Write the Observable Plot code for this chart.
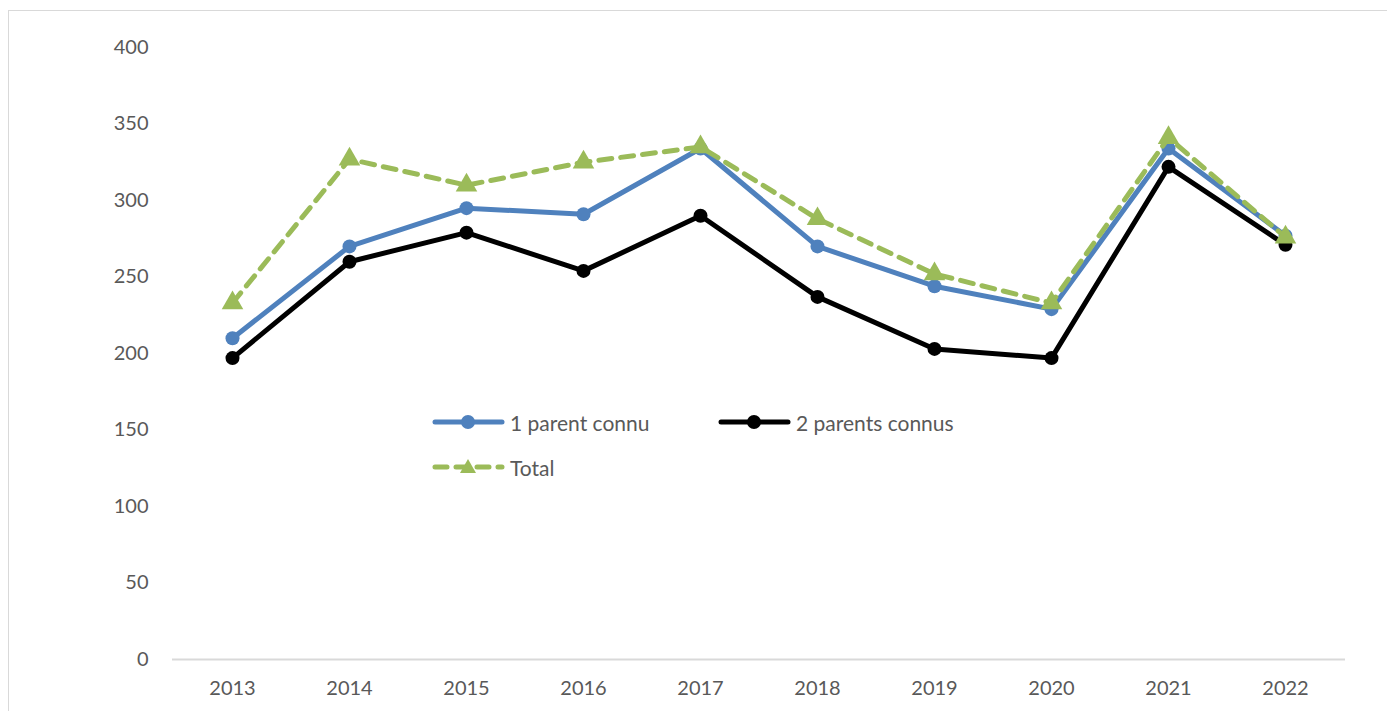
<!DOCTYPE html>
<html>
<head>
<meta charset="utf-8">
<script src="https://cdn.jsdelivr.net/npm/d3@7"></script>
<script src="https://cdn.jsdelivr.net/npm/@observablehq/plot@0.6"></script>
<style>
  html, body { margin: 0; padding: 0; background: #fff; }
  #wrap { position: relative; width: 1387px; height: 711px; overflow: hidden; font-family: Lato, "Open Sans", sans-serif; }
  #frame { position: absolute; left: 8px; top: 10px; width: 1400px; height: 720px; border: 1.5px solid #d9d9d9; box-sizing: border-box; }
  #chart { position: absolute; left: 0; top: 0; }
  .leg { position: absolute; display: flex; align-items: center; font-size: 21px; color: #595959; }
  .leg svg { margin-right: 5px; }
</style>
</head>
<body>
<div id="wrap">
  <div id="frame"></div>
  <div id="chart"></div>
</div>
<script>
const years = ["2013","2014","2015","2016","2017","2018","2019","2020","2021","2022"];
const unParent = [210, 270, 295, 291, 334, 270, 244, 229, 334, 277];
const deuxParents = [197, 260, 279, 254, 290, 237, 203, 197, 322, 271];
const total = [233, 327, 310, 325, 335, 288, 252, 233, 341, 276];
const yTicks = [0, 50, 100, 150, 200, 250, 300, 350, 400];
const seriesNames = ["1 parent connu", "2 parents connus", "Total"];

const blue = "#4f81bd", black = "#000000", green = "#9bbb59";

const rows = s => years.map((y, i) => ({year: y, value: s[i]}));
const dBlue = rows(unParent), dBlack = rows(deuxParents), dTotal = rows(total);

const plot = Plot.plot({
  width: 1387,
  height: 711,
  marginLeft: 172,
  marginRight: 42,
  marginTop: 47,
  marginBottom: 52,
  style: {fontFamily: "Lato, 'Open Sans', sans-serif", fontSize: "20px", color: "#595959", background: "transparent", overflow: "visible"},
  x: {type: "point", domain: years, padding: 0.5, label: null},
  y: {domain: [0, 400], ticks: yTicks, label: null},
  marks: [
    Plot.ruleY([0], {stroke: "#d9d9d9", strokeWidth: 2}),
    Plot.axisY({ticks: yTicks, tickSize: 0, tickPadding: 24, fontSize: 20, fill: "#595959"}),
    Plot.axisX({tickSize: 0, tickPadding: 21, fontSize: 20, fill: "#595959"}),
    Plot.line(dBlack, {x: "year", y: "value", stroke: black, strokeWidth: 5, strokeLinejoin: "round"}),
    Plot.dot(dBlack, {x: "year", y: "value", fill: black, r: 7}),
    Plot.line(dBlue, {x: "year", y: "value", stroke: blue, strokeWidth: 5, strokeLinejoin: "round"}),
    Plot.dot(dBlue, {x: "year", y: "value", fill: blue, r: 7}),
    Plot.line(dTotal, {x: "year", y: "value", stroke: green, strokeWidth: 5, strokeDasharray: "13,9", strokeLinecap: "round"}),
    Plot.dot(dTotal, {x: "year", y: "value", fill: green, symbol: "triangle", r: 8})
  ]
});
document.getElementById("chart").appendChild(plot);

// Legend (inside plot area)
const wrap = document.getElementById("wrap");
const legendItems = [
  {name: seriesNames[0], color: blue, left: 432, top: 407, kind: "circle", dash: null},
  {name: seriesNames[1], color: black, left: 718, top: 407, kind: "circle", dash: null},
  {name: seriesNames[2], color: green, left: 432, top: 452, kind: "triangle", dash: "12,9"}
];
for (const it of legendItems) {
  const div = document.createElement("div");
  div.className = "leg";
  div.style.left = it.left + "px";
  div.style.top = it.top + "px";
  const sym = it.kind === "circle"
    ? `<circle cx="36" cy="15" r="7" fill="${it.color}"/>`
    : `<path d="M36,7 L44,21 L28,21 Z" fill="${it.color}"/>`;
  div.innerHTML = `<svg width="73" height="30"><line x1="3" y1="15" x2="70" y2="15" stroke="${it.color}" stroke-width="5" stroke-linecap="round" ${it.dash ? `stroke-dasharray="${it.dash}"` : ""}/>${sym}</svg><span>${it.name}</span>`;
  wrap.appendChild(div);
}
</script>
</body>
</html>
